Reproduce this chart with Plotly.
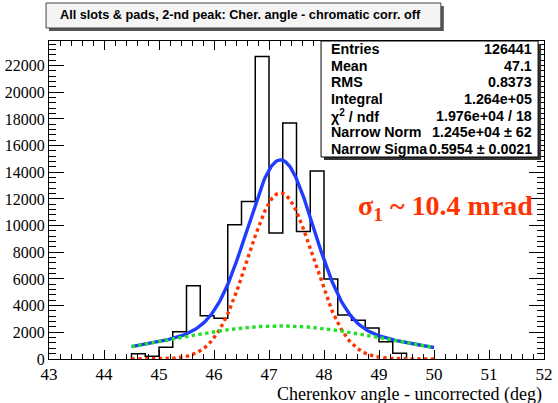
import plotly.graph_objects as go
import numpy as np

# ---- data ----
bin_edges = [44.5, 44.75, 45.0, 45.25, 45.5, 45.75, 46.0, 46.25, 46.5, 46.75, 47.0,
             47.25, 47.5, 47.75, 48.0, 48.25, 48.5, 48.75, 49.0, 49.25, 49.5]
bin_counts = [400, 200, 880, 2050, 5500, 3250, 3050, 10060, 11800, 22670,
              9440, 17700, 9560, 14100, 6000, 3300, 2900, 2330, 1300, 430]

# fit parameters (double gaussian)
narrow_norm = 12450
narrow_mean = 47.21
narrow_sigma = 0.5954
wide_norm = 2480
wide_mean = 47.2
wide_sigma = 1.93
fit_range = [44.5, 50.0]

x_ticks = [43, 44, 45, 46, 47, 48, 49, 50, 51, 52]
y_ticks = [0, 2000, 4000, 6000, 8000, 10000, 12000, 14000, 16000, 18000, 20000, 22000]

title_text = "All slots &amp; pads, 2-nd peak: Cher. angle - chromatic corr. off"
stats_labels = ["Entries", "Mean", "RMS", "Integral", "χ<sup>2</sup> / ndf", "Narrow Norm", "Narrow Sigma"]
stats_values = ["126441", "47.1", "0.8373", "1.264e+05", "1.976e+04 / 18", "1.245e+04 ± 62", "0.5954 ± 0.0021"]

# ---- geometry ----
W, H = 558, 403
L, R, T, B = 49, 553, 41, 359


def px(x):
    return (x - L) / (R - L)


def py(y):
    return (B - y) / (B - T)


fig = go.Figure()

# histogram outline
hx = [bin_edges[0]] + bin_edges[:-1] + [bin_edges[-1]]
hy = [0] + bin_counts + [0]
fig.add_trace(go.Scatter(x=hx, y=hy, mode="lines", line=dict(color="black", width=1.5, shape="hv"),
                         hoverinfo="skip", showlegend=False))

xf = np.linspace(fit_range[0], fit_range[1], 300)
narrow = narrow_norm * np.exp(-0.5 * ((xf - narrow_mean) / narrow_sigma) ** 2)
wide = wide_norm * np.exp(-0.5 * ((xf - wide_mean) / wide_sigma) ** 2)
total = narrow + wide

fig.add_trace(go.Scatter(x=xf, y=total, mode="lines", line=dict(color="#1f3cff", width=3.4),
                         showlegend=False))
fig.add_trace(go.Scatter(x=xf, y=narrow, mode="lines", line=dict(color="#ff3300", width=3.4, dash="dot"),
                         showlegend=False))
fig.add_trace(go.Scatter(x=xf, y=wide, mode="lines", line=dict(color="#22e022", width=3.4, dash="dot"),
                         showlegend=False))

shapes = []
annotations = []

# title box with shadow
tb = (46, 3, 448, 28)
shapes.append(dict(type="rect", xref="paper", yref="paper", x0=px(tb[0] + 3), x1=px(tb[2] + 3),
                   y0=py(tb[3] + 3), y1=py(tb[1] + 3), fillcolor="#555555", line=dict(width=0), layer="above"))
shapes.append(dict(type="rect", xref="paper", yref="paper", x0=px(tb[0]), x1=px(tb[2]),
                   y0=py(tb[3]), y1=py(tb[1]), fillcolor="#f4f4f4", line=dict(color="#444444", width=1), layer="above"))
annotations.append(dict(text="<b>" + title_text + "</b>", xref="paper", yref="paper",
                        x=px(244), y=py((tb[1] + tb[3]) / 2), showarrow=False,
                        xanchor="center", yanchor="middle",
                        font=dict(family="Liberation Sans, Arial", size=12.7, color="black")))

# stats box with shadow
sb = (326, 41, 547, 157)
shapes.append(dict(type="rect", xref="paper", yref="paper", x0=px(sb[0] + 3), x1=px(sb[2] + 3),
                   y0=py(sb[3] + 3), y1=py(sb[1] + 3), fillcolor="#333333", line=dict(width=0), layer="above"))
shapes.append(dict(type="rect", xref="paper", yref="paper", x0=px(sb[0]), x1=px(sb[2]),
                   y0=py(sb[3]), y1=py(sb[1]), fillcolor="white", line=dict(color="black", width=1), layer="above"))
n = len(stats_labels)
step = (sb[3] - sb[1]) / n
for i, (lab, val) in enumerate(zip(stats_labels, stats_values)):
    yc = sb[1] + step * (i + 0.5)
    annotations.append(dict(text="<b>" + lab + "</b>", xref="paper", yref="paper", x=px(sb[0] + 8), y=py(yc),
                            showarrow=False, xanchor="left", yanchor="middle",
                            font=dict(family="Liberation Sans, Arial", size=14.3, color="black")))
    annotations.append(dict(text="<b>" + val + "</b>", xref="paper", yref="paper", x=px(sb[2] - 4), y=py(yc),
                            showarrow=False, xanchor="right", yanchor="middle",
                            font=dict(family="Liberation Sans, Arial", size=14.3, color="black")))

# sigma annotation
annotations.append(dict(text="<b>σ<sub>1</sub> ~ 10.4 mrad</b>", xref="paper", yref="paper",
                        x=px(453), y=py(207), showarrow=False, xanchor="center", yanchor="middle",
                        font=dict(family="Liberation Serif, Times New Roman", size=28, color="#ff3300")))

# x axis title
annotations.append(dict(text="Cherenkov angle - uncorrected (deg)", xref="paper", yref="paper",
                        x=1.0, y=py(394), showarrow=False, xanchor="right", yanchor="middle",
                        font=dict(family="Liberation Serif, Times New Roman", size=18, color="black")))

fig.update_layout(
    width=W, height=H,
    margin=dict(l=L, r=W - R, t=T, b=H - B),
    paper_bgcolor="white", plot_bgcolor="white",
    shapes=shapes, annotations=annotations,
    showlegend=False,
)
fig.update_xaxes(range=[43, 52], tickvals=x_ticks, ticktext=[str(v) for v in x_ticks],
                 ticks="inside", ticklen=9, tickwidth=1, tickcolor="black", ticklabeloverflow="allow",
                 minor=dict(ticks="inside", dtick=0.2, tick0=43, ticklen=5, tickcolor="black", showgrid=False),
                 showline=True, linecolor="black", linewidth=1, mirror="ticks", showgrid=False, zeroline=False,
                 tickfont=dict(family="Liberation Serif, Times New Roman", size=17, color="black"))
fig.update_yaxes(range=[0, 23840], tickvals=y_ticks, ticktext=[str(v) for v in y_ticks],
                 ticks="inside", ticklen=15, tickwidth=1, tickcolor="black",
                 minor=dict(ticks="inside", dtick=400, tick0=0, ticklen=7, tickcolor="black", showgrid=False),
                 showline=True, linecolor="black", linewidth=1, mirror="ticks", showgrid=False, zeroline=False,
                 tickfont=dict(family="Liberation Serif, Times New Roman", size=16, color="black"))

fig.write_html("out.html")
